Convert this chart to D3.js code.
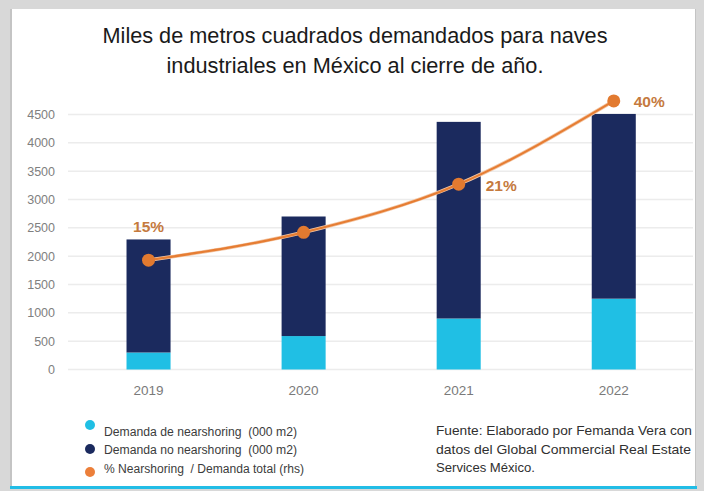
<!DOCTYPE html>
<html>
<head>
<meta charset="utf-8">
<script src="https://cdn.jsdelivr.net/npm/d3@7"></script>
<style>
  html, body { margin: 0; padding: 0; background: #d6d6d6; }
  svg { display: block; }
  text.pre { white-space: pre; }
</style>
</head>
<body>
<svg id="chart" width="704" height="491"></svg>
<script>
// ---- data ----
const years = ["2019", "2020", "2021", "2022"];
const nearshoring = [300, 590, 900, 1250];          // Demanda de nearshoring (000 m2)
const noNearshoring = [1995, 2110, 3470, 3260];     // Demanda no nearshoring (000 m2)
const shareLine = [0.193, 0.242, 0.327, 0.474];     // % Nearshoring / Demanda total (rhs), as plotted
const shareLabels = ["15%", "", "21%", "40%"];
const yTicks = [0, 500, 1000, 1500, 2000, 2500, 3000, 3500, 4000, 4500];
const titleLines = ["Miles de metros cuadrados demandados para naves", "industriales en México al cierre de año."];
const legendItems = ["Demanda de nearshoring  (000 m2)", "Demanda no nearshoring  (000 m2)", "% Nearshoring  / Demanda total (rhs)"];
const sourceLines = ["Fuente: Elaborado por Femanda Vera con", "datos del Global Commercial Real Estate", "Services México."];

const colLight = "#20bfe4", colDark = "#1b2a5e", colOrange = "#e67d33", colLabel = "#c57a3e";

const svg = d3.select("#chart");

// frame
svg.append("rect").attr("x", 0).attr("y", 0).attr("width", 704).attr("height", 491).attr("fill", "#d8d8d8");
svg.append("rect").attr("x", 10).attr("y", 9).attr("width", 686).attr("height", 478).attr("fill", "#c4c4c4");
svg.append("rect").attr("x", 12).attr("y", 9).attr("width", 683).attr("height", 478).attr("fill", "#ffffff");
svg.append("rect").attr("x", 10).attr("y", 486).attr("width", 687).attr("height", 3).attr("fill", "#22bde6");

// title
svg.append("g").selectAll("text").data(titleLines).join("text")
  .attr("x", 355).attr("y", (d, i) => 43 + i * 30)
  .attr("text-anchor", "middle")
  .attr("font-family", "'Liberation Sans Narrow', 'Arial Narrow', 'Liberation Sans', Arial, sans-serif")
  .attr("font-size", 22.5)
  .attr("fill", "#1a1a1a")
  .attr("textLength", (d, i) => i === 0 ? 505 : 377)
  .attr("lengthAdjust", "spacingAndGlyphs")
  .text(d => d);

// scales
const x = d3.scaleBand().domain(years).range([71, 691.3]).paddingInner(0.716).paddingOuter(0.358);
const y = d3.scaleLinear().domain([0, 4500]).range([369.5, 114.5]);
const y2 = d3.scaleLinear().domain([0, 0.45]).range([369.5, 114.5]);

// gridlines
svg.append("g").selectAll("line").data(yTicks).join("line")
  .attr("x1", 68).attr("x2", 693)
  .attr("y1", d => y(d)).attr("y2", d => y(d))
  .attr("stroke", "#ececec").attr("stroke-width", 1.5);

// y axis labels
const yAxis = svg.append("g").attr("transform", "translate(57,0)")
  .call(d3.axisLeft(y).tickValues(yTicks).tickFormat(d3.format("d")).tickSize(0).tickPadding(2));
yAxis.select(".domain").remove();
yAxis.selectAll("text")
  .attr("font-family", "'Liberation Sans', Arial, sans-serif")
  .attr("font-size", 12.5).attr("fill", "#808080");

// x axis labels
const xAxis = svg.append("g").attr("transform", `translate(0,${y(0)})`)
  .call(d3.axisBottom(x).tickSize(0).tickPadding(16));
xAxis.select(".domain").remove();
xAxis.selectAll("text")
  .attr("font-family", "'Liberation Sans', Arial, sans-serif")
  .attr("font-size", 13.5).attr("fill", "#7a7a7a");

// stacked bars
const rows = years.map((yr, i) => ({ year: yr, nearshoring: nearshoring[i], noNearshoring: noNearshoring[i] }));
const stack = d3.stack().keys(["nearshoring", "noNearshoring"])(rows);
const colors = { nearshoring: colLight, noNearshoring: colDark };
svg.append("g").selectAll("g").data(stack).join("g")
  .attr("fill", d => colors[d.key])
  .selectAll("rect").data(d => d).join("rect")
  .attr("x", d => x(d.data.year))
  .attr("width", x.bandwidth())
  .attr("y", d => y(d[1]))
  .attr("height", d => y(d[0]) - y(d[1]));

// line
const pts = years.map((yr, i) => ({ year: yr, v: shareLine[i], label: shareLabels[i] }));
const line = d3.line().x(d => x(d.year) + x.bandwidth() / 2).y(d => y2(d.v)).curve(d3.curveMonotoneX);
svg.append("path").datum(pts).attr("d", line)
  .attr("fill", "none").attr("stroke", "#f3c7a6").attr("stroke-width", 3.6);
svg.append("path").datum(pts).attr("d", line)
  .attr("fill", "none").attr("stroke", colOrange).attr("stroke-width", 2.2);
svg.append("g").selectAll("circle").data(pts).join("circle")
  .attr("cx", d => x(d.year) + x.bandwidth() / 2)
  .attr("cy", d => y2(d.v))
  .attr("r", 6.5)
  .attr("fill", "#e27a30");

// labels
const labelPos = [
  { dx: 0, dy: -28, anchor: "middle" },
  { dx: 0, dy: 0, anchor: "middle" },
  { dx: 27, dy: 7, anchor: "start" },
  { dx: 20, dy: 6, anchor: "start" }
];
svg.append("g").selectAll("text").data(pts).join("text")
  .attr("x", (d, i) => x(d.year) + x.bandwidth() / 2 + labelPos[i].dx)
  .attr("y", (d, i) => y2(d.v) + labelPos[i].dy)
  .attr("text-anchor", (d, i) => labelPos[i].anchor)
  .attr("font-family", "'Liberation Sans', Arial, sans-serif")
  .attr("font-weight", "bold").attr("font-size", 15.5)
  .attr("fill", colLabel)
  .text(d => d.label);

// legend
const legendColors = [colLight, colDark, "#ec7f3a"];
const markerY = [425, 449, 472];
const textY = [436, 454, 473];
const legendW = [193, 193, 200];
const lg = svg.append("g");
lg.selectAll("circle").data(legendItems).join("circle")
  .attr("cx", 90).attr("cy", (d, i) => markerY[i]).attr("r", 5)
  .attr("fill", (d, i) => legendColors[i]);
lg.selectAll("text").data(legendItems).join("text")
  .attr("class", "pre")
  .attr("x", 104).attr("y", (d, i) => textY[i])
  .attr("font-family", "'Liberation Sans Narrow', 'Arial Narrow', 'Liberation Sans', Arial, sans-serif")
  .attr("font-size", 12.5).attr("fill", "#3c3c3c")
  .attr("textLength", (d, i) => legendW[i]).attr("lengthAdjust", "spacingAndGlyphs")
  .text(d => d);

// source
const srcW = [256, 255, 99];
svg.append("g").selectAll("text").data(sourceLines).join("text")
  .attr("x", 436).attr("y", (d, i) => 435 + i * 18.5)
  .attr("font-family", "'Liberation Sans Narrow', 'Arial Narrow', 'Liberation Sans', Arial, sans-serif")
  .attr("font-size", 13.5).attr("fill", "#303030")
  .attr("textLength", (d, i) => srcW[i]).attr("lengthAdjust", "spacingAndGlyphs")
  .text(d => d);
</script>
</body>
</html>
